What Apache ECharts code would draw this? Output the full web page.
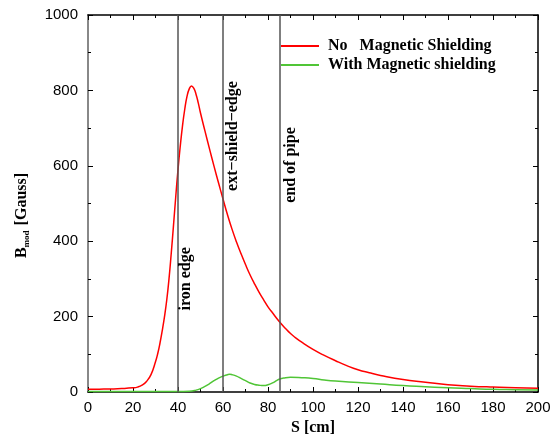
<!DOCTYPE html>
<html>
<head>
<meta charset="utf-8">
<script src="https://cdn.jsdelivr.net/npm/echarts@6/dist/echarts.min.js"></script>
<style>
  html, body { margin: 0; padding: 0; background: #fff; }
  #chart { width: 558px; height: 437px; }
</style>
</head>
<body>
<div id="chart"></div>
<script>
// field without shielding
var sNo = [0, 5, 10, 15, 20, 22, 24, 26, 28, 30, 31, 32, 33, 34, 35, 36, 37, 38, 39, 40, 41, 42, 43, 44, 45, 46, 47, 48, 49, 50, 52, 54, 56, 58, 60, 62, 64, 66, 68, 70, 72, 74, 76, 78, 80, 82, 85, 88, 90, 92, 95, 100, 105, 110, 115, 120, 125, 130, 140, 150, 160, 170, 180, 190, 200];
var bNo = [7, 7.5, 8, 9, 11, 13, 18, 28, 46, 80, 102, 130, 163, 200, 244, 300, 368, 442, 518, 590, 652, 706, 750, 784, 804, 812, 806, 790, 767, 740, 692, 645, 599, 555, 512, 470, 432, 398, 367, 338, 311, 287, 265, 245, 226, 210, 187, 167, 155, 145, 132, 113, 97, 83, 70, 59, 51, 44, 33, 26, 19, 15.5, 13, 11, 10];
// field with shielding
var sWith = [0, 10, 20, 30, 40, 45, 48, 50, 52, 54, 56, 58, 60, 62, 63, 64, 66, 68, 70, 72, 74, 76, 78, 80, 82, 84, 85, 87, 90, 95, 100, 105, 110, 120, 130, 140, 150, 160, 170, 180, 190, 200];
var bWith = [1, 1, 1, 1, 1, 2, 5, 9, 15, 22, 30, 37, 42, 46, 47, 46, 42, 36, 30, 24, 20, 18, 17, 19, 24, 31, 34, 37, 39, 38, 36, 32, 29, 25, 21, 17, 14, 11, 9, 7, 6, 5];
// vertical markers
var edgeS = [40, 60, 85];
var edgeNames = ['iron edge', 'ext\u2212shield\u2212edge', 'end of pipe'];
var edgeLabelAt = [[43.6, 300], [64.4, 679], [90.2, 602]];
var xTicks = [0, 20, 40, 60, 80, 100, 120, 140, 160, 180, 200];
var yTicks = [0, 200, 400, 600, 800, 1000];

function pairs(xs, ys) {
  return xs.map(function (x, i) { return [x, ys[i]]; });
}

var chart = echarts.init(document.getElementById('chart'));
var serif = '"Liberation Serif", "DejaVu Serif", serif';
var sans = '"Liberation Sans", Arial, sans-serif';

function ticks() {
  return {
    axisTick: { show: true, inside: true, length: 5, lineStyle: { color: '#000', width: 1 } },
    minorTick: { show: true, splitNumber: 2, length: 3, lineStyle: { color: '#000', width: 1 } },
    splitLine: { show: false },
    minorSplitLine: { show: false }
  };
}

var option = {
  animation: false,
  backgroundColor: '#fff',
  grid: { left: 88, right: 20, top: 15, bottom: 45, outerBoundsMode: 'none' },
  legend: {
    orient: 'vertical',
    left: 276,
    top: 33,
    itemWidth: 38,
    itemHeight: 2,
    itemGap: 3,
    icon: 'rect',
    textStyle: { fontFamily: serif, fontWeight: 'bold', fontSize: 16, color: '#000', padding: [0, 0, 0, 4] },
    data: ['No   Magnetic Shielding', 'With Magnetic shielding']
  },
  xAxis: [
    Object.assign({
      type: 'value', min: 0, max: 200, interval: 20,
      name: 'S [cm]', nameLocation: 'middle', nameGap: 28,
      nameTextStyle: { fontFamily: serif, fontWeight: 'bold', fontSize: 16, color: '#000' },
      axisLine: { show: true, onZero: false, lineStyle: { color: '#000', width: 1.5 } },
      axisLabel: { fontFamily: sans, fontSize: 15, color: '#000', margin: 8,
        formatter: function (v) { return xTicks.indexOf(v) >= 0 ? String(v) : ''; } }
    }, ticks()),
    Object.assign({
      type: 'value', min: 0, max: 200, interval: 20, position: 'top',
      axisLine: { show: true, onZero: false, lineStyle: { color: '#000', width: 1.5 } },
      axisLabel: { show: false }
    }, ticks())
  ],
  yAxis: [
    Object.assign({
      type: 'value', min: 0, max: 1000, interval: 200,
      name: '{b|B}{s|mod}{b| [Gauss]}', nameLocation: 'middle', nameGap: 57, nameRotate: 90,
      nameTextStyle: {
        padding: [0, 24, 0, 0],
        rich: {
          b: { fontFamily: serif, fontWeight: 'bold', fontSize: 16, color: '#000' },
          s: { fontFamily: serif, fontWeight: 'bold', fontSize: 9, color: '#000', padding: [9, 1, 0, 0] }
        }
      },
      axisLine: { show: true, onZero: false, lineStyle: { color: '#888', width: 2 } },
      axisLabel: { fontFamily: sans, fontSize: 15, color: '#000', margin: 10,
        formatter: function (v) { return yTicks.indexOf(v) >= 0 ? String(v) : ''; } }
    }, ticks()),
    Object.assign({
      type: 'value', min: 0, max: 1000, interval: 200, position: 'right',
      axisLine: { show: true, onZero: false, lineStyle: { color: '#000', width: 1.5 } },
      axisLabel: { show: false }
    }, ticks())
  ],
  series: [
    {
      name: 'No   Magnetic Shielding',
      type: 'line',
      data: pairs(sNo, bNo),
      smooth: 0.5,
      showSymbol: false,
      symbol: 'none',
      color: '#ff0000',
      lineStyle: { color: '#ff0000', width: 1.5 },
      markLine: {
        silent: true,
        symbol: 'none',
        lineStyle: { color: '#555', width: 1.5, type: 'solid' },
        label: { show: false },
        data: edgeS.map(function (s) { return { xAxis: s }; })
      },
      markPoint: {
        silent: true,
        symbol: 'circle',
        symbolSize: 0,
        data: edgeLabelAt.map(function (c, i) {
          return {
            coord: c,
            label: {
              show: true, position: 'inside', rotate: 90, formatter: edgeNames[i],
              fontFamily: serif, fontWeight: 'bold', fontSize: 16, color: '#000'
            }
          };
        })
      }
    },
    {
      name: 'With Magnetic shielding',
      type: 'line',
      data: pairs(sWith, bWith),
      smooth: 0.5,
      showSymbol: false,
      symbol: 'none',
      color: '#50c536',
      lineStyle: { color: '#50c536', width: 1.5 }
    }
  ]
};
chart.setOption(option);
</script>
</body>
</html>
